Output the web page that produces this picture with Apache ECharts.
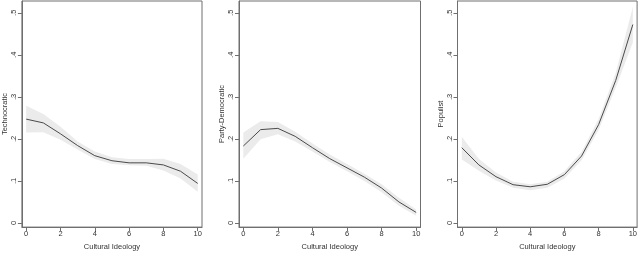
<!DOCTYPE html>
<html lang="en">
<head>
  <meta charset="UTF-8">
  <title>Predicted probabilities by cultural ideology</title>
  <script src="https://cdn.jsdelivr.net/npm/echarts@6.0.0/dist/echarts.min.js"></script>
  <style>
    html, body { margin: 0; padding: 0; background: #fff; }
  </style>
</head>
<body>
  <!-- Chart container -->
  <div id="main" style="width: 640px; height: 256px;"></div>

  <script>
    // Data
    const ideology = [0, 1, 2, 3, 4, 5, 6, 7, 8, 9, 10];
    const xTicks = [0, 2, 4, 6, 8, 10];
    const yTicks = [0, 0.1, 0.2, 0.3, 0.4, 0.5];
    const panelNames = ['Technocratic', 'Party-Democratic', 'Populist'];

    const technoFit   = [0.247, 0.238, 0.212, 0.184, 0.160, 0.148, 0.143, 0.143, 0.138, 0.123, 0.094];
    const technoLower = [0.215, 0.216, 0.198, 0.175, 0.152, 0.140, 0.137, 0.136, 0.125, 0.106, 0.074];
    const technoUpper = [0.279, 0.259, 0.229, 0.194, 0.170, 0.156, 0.152, 0.152, 0.153, 0.140, 0.115];

    const partyFit   = [0.183, 0.222, 0.225, 0.206, 0.179, 0.153, 0.131, 0.109, 0.083, 0.050, 0.025];
    const partyLower = [0.153, 0.199, 0.211, 0.194, 0.170, 0.145, 0.123, 0.100, 0.073, 0.041, 0.017];
    const partyUpper = [0.215, 0.242, 0.240, 0.217, 0.189, 0.163, 0.140, 0.117, 0.092, 0.060, 0.032];

    const popFit   = [0.179, 0.138, 0.110, 0.091, 0.086, 0.092, 0.115, 0.159, 0.234, 0.339, 0.472];
    const popLower = [0.151, 0.124, 0.101, 0.084, 0.078, 0.084, 0.106, 0.149, 0.221, 0.322, 0.429];
    const popUpper = [0.205, 0.152, 0.120, 0.098, 0.092, 0.098, 0.123, 0.169, 0.247, 0.357, 0.514];

    const panels = [
      { fit: technoFit, lower: technoLower, upper: technoUpper },
      { fit: partyFit, lower: partyLower, upper: partyUpper },
      { fit: popFit, lower: popLower, upper: popUpper }
    ];

    const font = 'Liberation Sans, Arial, sans-serif';
    const frameColor = '#6f6f6f';
    const textColor = '#333';
    const gridLefts = [20.5, 239, 457.5];

    const grids = [], xAxes = [], yAxes = [], series = [];

    // draws the whole confidence band as one polygon (on the first data item)
    function bandItem(params, api) {
      if (params.dataIndex !== 0) return null;
      const n = params.dataInsideLength;
      const top = [], bottom = [];
      for (let k = 0; k < n; k++) {
        const x = api.value(0, k);
        top.push(api.coord([x, api.value(2, k)]));
        bottom.push(api.coord([x, api.value(1, k)]));
      }
      return {
        type: 'polygon',
        shape: { points: top.concat(bottom.reverse()) },
        style: { fill: '#ebebeb' },
        silent: true
      };
    }

    panels.forEach((p, i) => {
      grids.push({
        left: gridLefts[i], width: 181.5, top: 1, bottom: 21,
        show: true, borderColor: frameColor, borderWidth: 1
      });

      xAxes.push({
        gridIndex: i, type: 'value', min: -0.25, max: 10.25,
        name: 'Cultural Ideology', nameLocation: 'middle', nameGap: 11,
        nameTextStyle: { fontFamily: font, fontSize: 7.5, color: textColor },
        axisLine: { show: true, onZero: false, lineStyle: { color: frameColor } },
        axisTick: { show: true, length: 4, customValues: xTicks, lineStyle: { color: frameColor } },
        axisLabel: { customValues: xTicks, margin: 3, fontFamily: font, fontSize: 7.5, color: textColor },
        splitLine: { show: false }
      });

      yAxes.push({
        gridIndex: i, type: 'value', min: -0.0099, max: 0.528,
        name: panelNames[i], nameLocation: 'middle', nameGap: 12.5, nameRotate: 90,
        nameTextStyle: { fontFamily: font, fontSize: 7.5, color: textColor },
        axisLine: { show: true, onZero: false, lineStyle: { color: frameColor } },
        axisTick: { show: true, length: 4, customValues: yTicks, lineStyle: { color: frameColor } },
        axisLabel: {
          customValues: yTicks, rotate: 90, margin: 4,
          fontFamily: font, fontSize: 7.5, color: textColor,
          formatter: v => (v === 0 ? '0' : String(+v.toFixed(1)).replace('0.', '.'))
        },
        splitLine: { show: false }
      });

      // confidence band
      series.push({
        type: 'custom', xAxisIndex: i, yAxisIndex: i, z: 1,
        renderItem: bandItem,
        encode: { x: 0, y: [1, 2] },
        data: ideology.map((x, k) => [x, p.lower[k], p.upper[k]])
      });
      // fitted line
      series.push({
        type: 'line', xAxisIndex: i, yAxisIndex: i, z: 5,
        symbol: 'none', color: '#4a4a4a', lineStyle: { width: 1, color: '#4a4a4a' },
        data: ideology.map((x, k) => [x, p.fit[k]])
      });
    });

    const myChart = echarts.init(document.getElementById('main'));
    myChart.setOption({
      animation: false,
      backgroundColor: '#fff',
      grid: grids,
      xAxis: xAxes,
      yAxis: yAxes,
      series: series
    });
  </script>
</body>
</html>
